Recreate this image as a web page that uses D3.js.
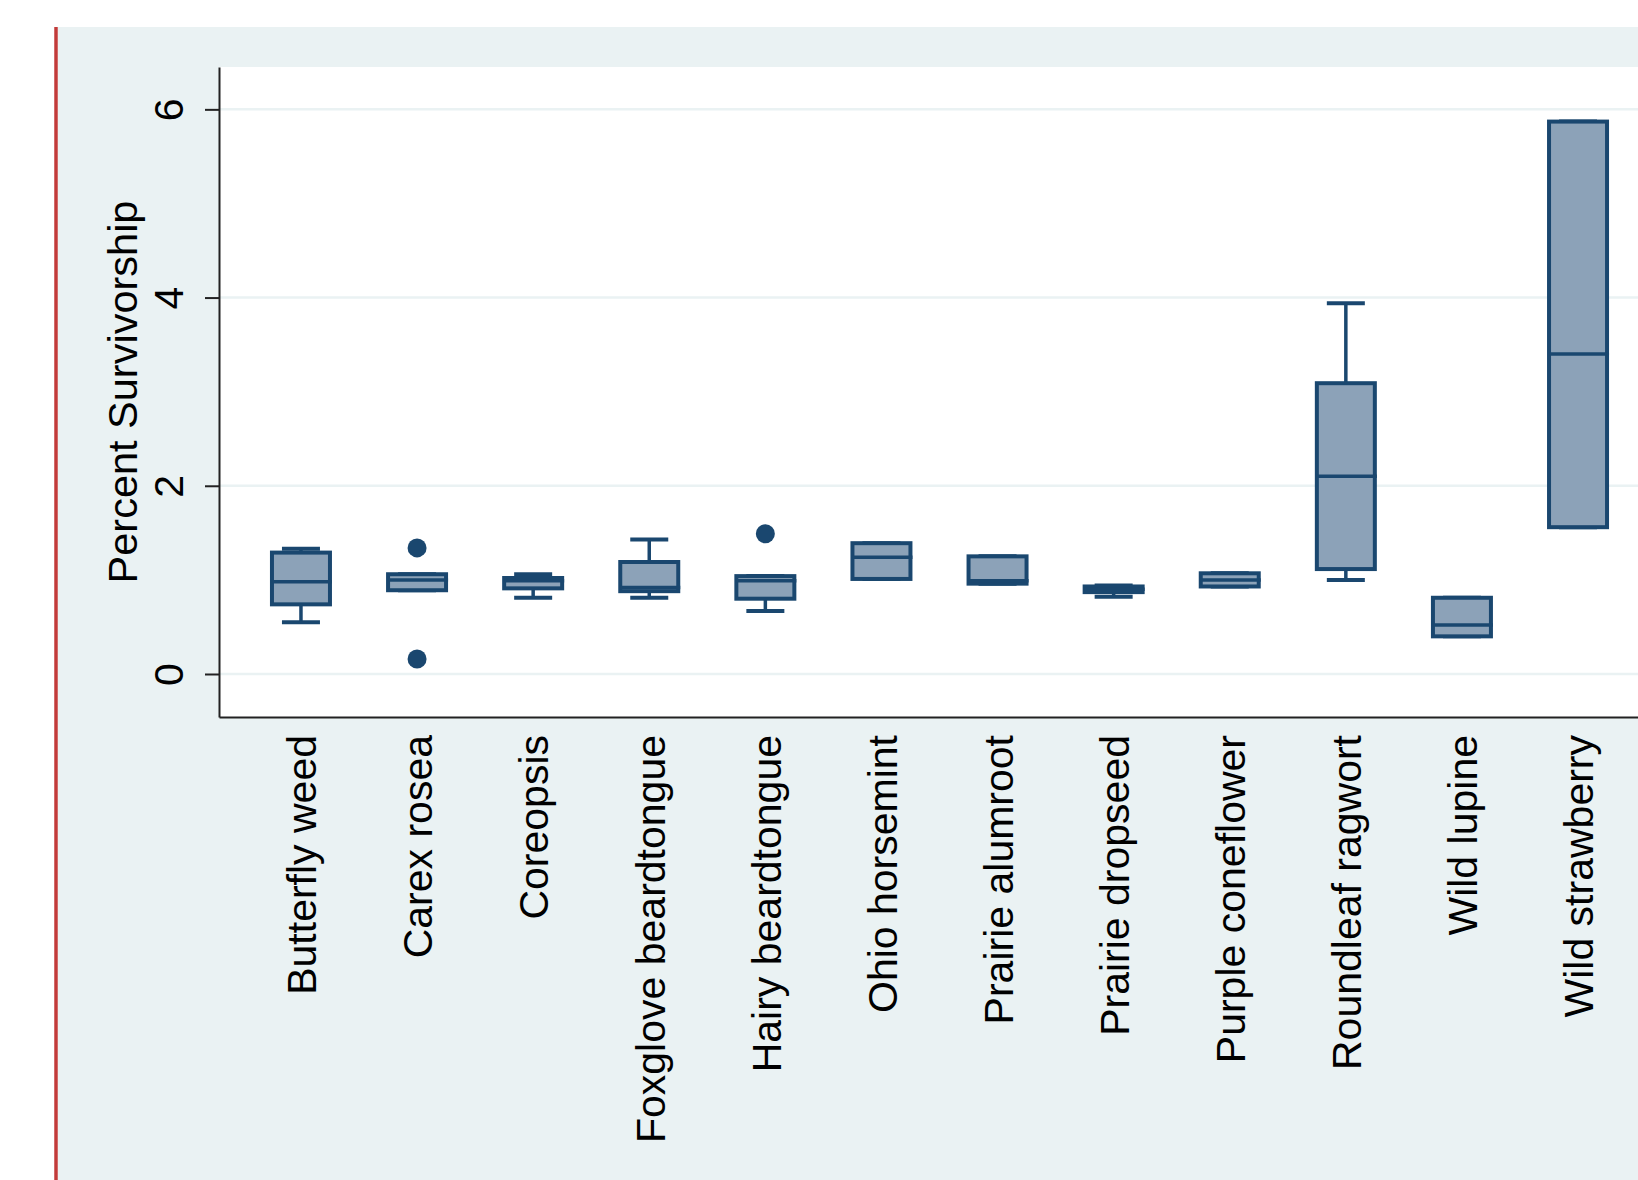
<!DOCTYPE html>
<html>
<head>
<meta charset="utf-8">
<script src="https://cdn.jsdelivr.net/npm/d3@7"></script>
<style>
  body { margin: 0; background: #ffffff; }
  svg { display: block; font-family: "Liberation Sans", Arial, sans-serif; }
</style>
</head>
<body>
<div id="chart"></div>
<script>
// species on the x axis
const categories = ["Butterfly weed", "Carex rosea", "Coreopsis", "Foxglove beardtongue",
    "Hairy beardtongue", "Ohio horsemint", "Prairie alumroot", "Prairie dropseed",
    "Purple coneflower", "Roundleaf ragwort", "Wild lupine", "Wild strawberry"];

// box statistics
const whiskerLo = [0.55, 0.89, 0.81, 0.81, 0.67, 1.01, 0.96, 0.82, 0.93, 1.00, 0.40, 1.56];
const q1        = [0.74, 0.89, 0.91, 0.88, 0.80, 1.01, 0.96, 0.87, 0.93, 1.115, 0.40, 1.56];
const median    = [0.98, 1.00, 0.99, 0.92, 0.99, 1.24, 0.99, 0.90, 1.00, 2.10, 0.52, 3.40];
const q3        = [1.29, 1.06, 1.02, 1.19, 1.04, 1.39, 1.25, 0.93, 1.07, 3.09, 0.81, 5.87];
const whiskerHi = [1.33, 1.06, 1.06, 1.43, 1.04, 1.39, 1.25, 0.94, 1.07, 3.94, 0.81, 5.87];

// outside values
const outlierCat = ["Carex rosea", "Carex rosea", "Hairy beardtongue"];
const outlierVal = [1.34, 0.16, 1.49];

const yTicks = [0, 2, 4, 6];
const yTitle = "Percent Survivorship";

const width = 1638, height = 1180;
const plot = {left: 219, top: 67, bottom: 717, right: 1660};
const navy = "#1a476f", boxFill = "#8ca2b8", bg = "#eaf2f3";

const data = categories.map((c, i) => ({
    cat: c, lo: whiskerLo[i], q1: q1[i], med: median[i], q3: q3[i], hi: whiskerHi[i]
}));

const svg = d3.select("#chart").append("svg")
    .attr("width", width)
    .attr("height", height);

// graph region background + red margin line
svg.append("rect")
    .attr("x", 58).attr("y", 27)
    .attr("width", width - 58).attr("height", height - 27)
    .attr("fill", bg);
svg.append("line")
    .attr("x1", 56).attr("x2", 56)
    .attr("y1", 27).attr("y2", height)
    .attr("stroke", "#c23b3a")
    .attr("stroke-width", 3.5);

// plot region
svg.append("rect")
    .attr("x", plot.left).attr("y", plot.top)
    .attr("width", plot.right - plot.left).attr("height", plot.bottom - plot.top)
    .attr("fill", "#ffffff");

const xScale = d3.scalePoint()
    .domain(categories)
    .range([plot.left, plot.right])
    .padding(0.706);

const yScale = d3.scaleLinear()
    .domain([-0.457, 6.45])
    .range([plot.bottom, plot.top]);

// grid lines
svg.append("g").selectAll("line")
    .data(yTicks)
    .enter()
  .append("line")
    .attr("x1", plot.left).attr("x2", plot.right)
    .attr("y1", d => yScale(d)).attr("y2", d => yScale(d))
    .attr("stroke", bg)
    .attr("stroke-width", 2.5);

const boxW = 58, capW = 38;

const boxes = svg.append("g").selectAll(".box")
    .data(data)
    .enter()
  .append("g")
    .attr("class", "box")
    .attr("transform", d => "translate(" + xScale(d.cat) + ",0)");

// whiskers
boxes.append("line")
    .attr("x1", 0).attr("x2", 0)
    .attr("y1", d => yScale(d.hi)).attr("y2", d => yScale(d.q3))
    .attr("stroke", navy).attr("stroke-width", 3.5);
boxes.append("line")
    .attr("x1", 0).attr("x2", 0)
    .attr("y1", d => yScale(d.q1)).attr("y2", d => yScale(d.lo))
    .attr("stroke", navy).attr("stroke-width", 3.5);
boxes.append("line")
    .attr("x1", -capW / 2).attr("x2", capW / 2)
    .attr("y1", d => yScale(d.hi)).attr("y2", d => yScale(d.hi))
    .attr("stroke", navy).attr("stroke-width", 4);
boxes.append("line")
    .attr("x1", -capW / 2).attr("x2", capW / 2)
    .attr("y1", d => yScale(d.lo)).attr("y2", d => yScale(d.lo))
    .attr("stroke", navy).attr("stroke-width", 4);

// boxes
boxes.append("rect")
    .attr("x", -boxW / 2)
    .attr("y", d => yScale(d.q3))
    .attr("width", boxW)
    .attr("height", d => yScale(d.q1) - yScale(d.q3))
    .attr("fill", boxFill)
    .attr("stroke", navy)
    .attr("stroke-width", 4);

// medians
boxes.append("line")
    .attr("x1", -boxW / 2).attr("x2", boxW / 2 + 2)
    .attr("y1", d => yScale(d.med)).attr("y2", d => yScale(d.med))
    .attr("stroke", navy).attr("stroke-width", 3.5);

// outliers
svg.append("g").selectAll("circle")
    .data(outlierVal)
    .enter()
  .append("circle")
    .attr("cx", (d, i) => xScale(outlierCat[i]))
    .attr("cy", d => yScale(d))
    .attr("r", 9.5)
    .attr("fill", navy);

// y axis
const yAxisG = svg.append("g")
    .attr("transform", "translate(" + plot.left + ",0)")
    .call(d3.axisLeft(yScale).tickValues(yTicks).tickFormat(d3.format("d"))
        .tickSize(14).tickSizeOuter(0));
yAxisG.select(".domain").attr("stroke", "#222").attr("stroke-width", 2);
yAxisG.selectAll(".tick line").attr("stroke", "#222").attr("stroke-width", 2);
yAxisG.selectAll(".tick text")
    .attr("x", null).attr("dy", null)
    .attr("transform", "translate(-36,0) rotate(-90)")
    .attr("text-anchor", "middle")
    .attr("fill", "#000")
    .style("font-size", "41px");

// x axis
const xAxisG = svg.append("g")
    .attr("transform", "translate(0," + plot.bottom + ")")
    .call(d3.axisBottom(xScale).tickSize(0).tickSizeOuter(0));
xAxisG.select(".domain").attr("stroke", "#222").attr("stroke-width", 2);
xAxisG.selectAll(".tick text")
    .attr("y", 0)
    .attr("x", -18)
    .attr("dy", "0.36em")
    .attr("transform", "rotate(-90)")
    .attr("text-anchor", "end")
    .attr("fill", "#000")
    .style("font-size", "41px");

// y title
svg.append("text")
    .attr("transform", "translate(137," + ((plot.top + plot.bottom) / 2) + ") rotate(-90)")
    .attr("text-anchor", "middle")
    .attr("fill", "#000")
    .style("font-size", "41.5px")
    .text(yTitle);
</script>
</body>
</html>
